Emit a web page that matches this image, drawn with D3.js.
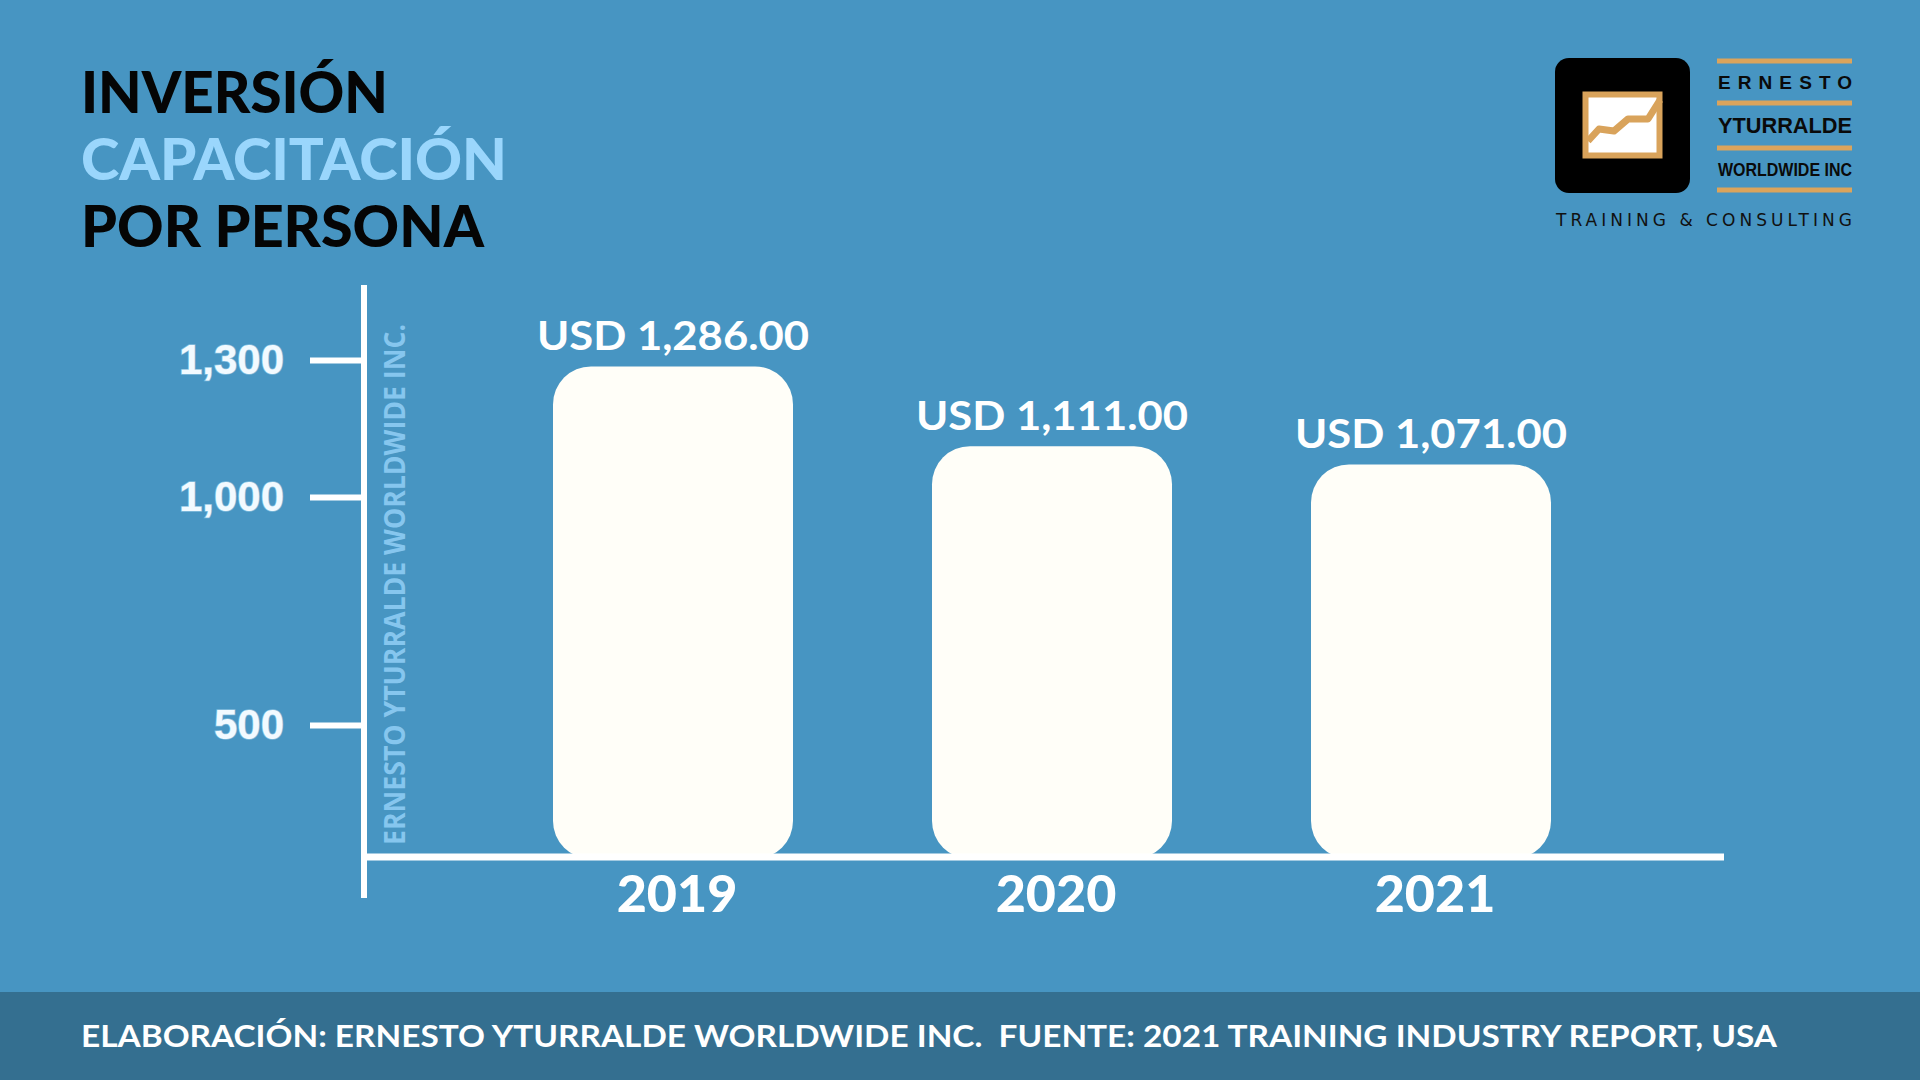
<!DOCTYPE html>
<html>
<head>
<meta charset="utf-8">
<script src="https://cdn.jsdelivr.net/npm/d3@7"></script>
<style>
  html, body { margin: 0; padding: 0; background: #4795c2; }
  svg { display: block; }
</style>
</head>
<body>
<svg id="chart"></svg>
<script>
// data
var years = ["2019", "2020", "2021"];
var investment = [1286, 1111, 1071];
var yTicks = [500, 1000, 1300];
var titleLines = ["INVERSIÓN", "CAPACITACIÓN", "POR PERSONA"];
var footerText = "ELABORACIÓN: ERNESTO YTURRALDE WORLDWIDE INC.  FUENTE: 2021 TRAINING INDUSTRY REPORT, USA";
var watermark = "ERNESTO YTURRALDE WORLDWIDE INC.";
var logoLines = ["ERNESTO", "YTURRALDE", "WORLDWIDE INC"];
var tagline = "TRAINING & CONSULTING";

var W = 1920, H = 1080;
var baseY = 857, axisX = 364;

var svg = d3.select("#chart").attr("width", W).attr("height", H);

svg.append("rect").attr("width", W).attr("height", H).attr("fill", "#4795c2");

// title
var titleColors = ["#050505", "#9ad6fc", "#050505"];
var titleWidths = [307, 426, 403];
svg.selectAll(".title")
  .data(titleLines)
  .enter().append("text")
    .attr("class", "title")
    .attr("x", 81)
    .attr("y", function (d, i) { return 113 + i * 67; })
    .attr("font-family", "Lato, sans-serif")
    .attr("font-weight", 900)
    .attr("font-size", 57)
    .attr("fill", function (d, i) { return titleColors[i]; })
    .attr("textLength", function (d, i) { return titleWidths[i]; })
    .attr("lengthAdjust", "spacingAndGlyphs")
    .text(function (d) { return d; });

// scales
var y = d3.scaleLinear().domain([500, 1300]).range([725, 360]);
var x = d3.scalePoint().domain(years).range([673, 1431]);
var barW = 240;

// bars
var data = years.map(function (d, i) { return {year: d, value: investment[i]}; });

svg.selectAll(".bar")
  .data(data)
  .enter().append("rect")
    .attr("class", "bar")
    .attr("x", function (d) { return x(d.year) - barW / 2; })
    .attr("y", function (d) { return y(d.value); })
    .attr("width", barW)
    .attr("height", function (d) { return baseY + 2 - y(d.value); })
    .attr("rx", 38)
    .attr("fill", "#fffef8");

svg.selectAll(".val")
  .data(data)
  .enter().append("text")
    .attr("class", "val")
    .attr("x", function (d) { return x(d.year); })
    .attr("y", function (d) { return y(d.value) - 16; })
    .attr("text-anchor", "middle")
    .attr("font-family", "Lato, sans-serif")
    .attr("font-weight", 700)
    .attr("font-size", 40)
    .attr("fill", "#ffffff")
    .attr("textLength", 272)
    .attr("lengthAdjust", "spacingAndGlyphs")
    .text(function (d) { return "USD " + d3.format(",.2f")(d.value); });

// y axis ticks
var yAxis = d3.axisLeft(y).tickValues(yTicks).tickSize(54).tickPadding(26)
  .tickFormat(d3.format(","));

var gy = svg.append("g")
  .attr("transform", "translate(" + axisX + ",0)")
  .call(yAxis);
gy.select(".domain").remove();
gy.selectAll(".tick line").attr("stroke", "#ffffff").attr("stroke-width", 6);
gy.selectAll(".tick text")
  .attr("fill", "#f2faff")
  .attr("font-family", "'Liberation Sans', Arial, sans-serif")
  .attr("font-weight", 700)
  .attr("font-size", 42)
  .style("paint-order", "stroke")
  .attr("stroke", "#a9d6ee")
  .attr("stroke-width", 1.5)
  .attr("stroke-opacity", 0.6);

// axis lines
svg.append("line")
  .attr("x1", axisX).attr("x2", axisX)
  .attr("y1", 285).attr("y2", 898)
  .attr("stroke", "#ffffff").attr("stroke-width", 6);
svg.append("line")
  .attr("x1", axisX - 3).attr("x2", 1724)
  .attr("y1", baseY).attr("y2", baseY)
  .attr("stroke", "#ffffff").attr("stroke-width", 7);

// watermark along the axis
svg.append("text")
  .attr("transform", "translate(405,845) rotate(-90)")
  .attr("font-family", "'Open Sans', sans-serif")
  .attr("font-weight", 700)
  .attr("font-size", 29)
  .attr("fill", "#86c6ee")
  .attr("textLength", 521)
  .attr("lengthAdjust", "spacingAndGlyphs")
  .text(watermark);

// year labels
svg.selectAll(".year")
  .data(years)
  .enter().append("text")
    .attr("class", "year")
    .attr("x", function (d) { return x(d) + 4; })
    .attr("y", 912)
    .attr("text-anchor", "middle")
    .attr("font-family", "Lato, sans-serif")
    .attr("font-weight", 900)
    .attr("font-size", 52)
    .attr("fill", "#ffffff")
    .text(function (d) { return d; });

// logo
var logo = svg.append("g");
logo.append("rect")
  .attr("x", 1555).attr("y", 58).attr("width", 135).attr("height", 135)
  .attr("rx", 14).attr("fill", "#000000");
logo.append("rect")
  .attr("x", 1585.5).attr("y", 94.5).attr("width", 74).attr("height", 61)
  .attr("fill", "#ffffff").attr("stroke", "#d9a35b").attr("stroke-width", 6);
logo.append("path")
  .attr("d", "M1588,141 L1599,129 L1614,131 L1628,119 L1648,119 L1660,100")
  .attr("fill", "none").attr("stroke", "#d9a35b").attr("stroke-width", 7)
  .attr("stroke-linejoin", "round");

[61, 103, 148, 190].forEach(function (ly) {
  logo.append("rect")
    .attr("x", 1717).attr("y", ly - 2.5).attr("width", 135).attr("height", 5)
    .attr("fill", "#dba45c");
});

var logoBase = [89, 133, 176];
var logoSize = [19, 22, 19];
logo.selectAll(".lname")
  .data(logoLines)
  .enter().append("text")
    .attr("class", "lname")
    .attr("x", 1718)
    .attr("y", function (d, i) { return logoBase[i]; })
    .attr("font-family", "'Liberation Sans', Arial, sans-serif")
    .attr("font-weight", 700)
    .attr("font-size", function (d, i) { return logoSize[i]; })
    .attr("fill", "#0a0a0a")
    .attr("textLength", 134)
    .attr("lengthAdjust", function (d, i) { return i == 0 ? "spacing" : "spacingAndGlyphs"; })
    .text(function (d) { return d; });

logo.append("text")
  .attr("x", 1556).attr("y", 226)
  .attr("font-family", "'DejaVu Sans', sans-serif")
  .attr("font-size", 17)
  .attr("fill", "#111111")
  .attr("textLength", 296)
  .attr("lengthAdjust", "spacing")
  .text(tagline);

// footer
svg.append("rect")
  .attr("x", 0).attr("y", 992).attr("width", W).attr("height", H - 992)
  .attr("fill", "#346f90");
svg.append("text")
  .attr("x", 81).attr("y", 1047)
  .attr("font-family", "Lato, sans-serif")
  .attr("font-weight", 700)
  .attr("font-size", 31)
  .attr("fill", "#ffffff")
  .attr("textLength", 1696)
  .attr("lengthAdjust", "spacingAndGlyphs")
  .style("white-space", "pre")
  .text(footerText);
</script>
</body>
</html>
